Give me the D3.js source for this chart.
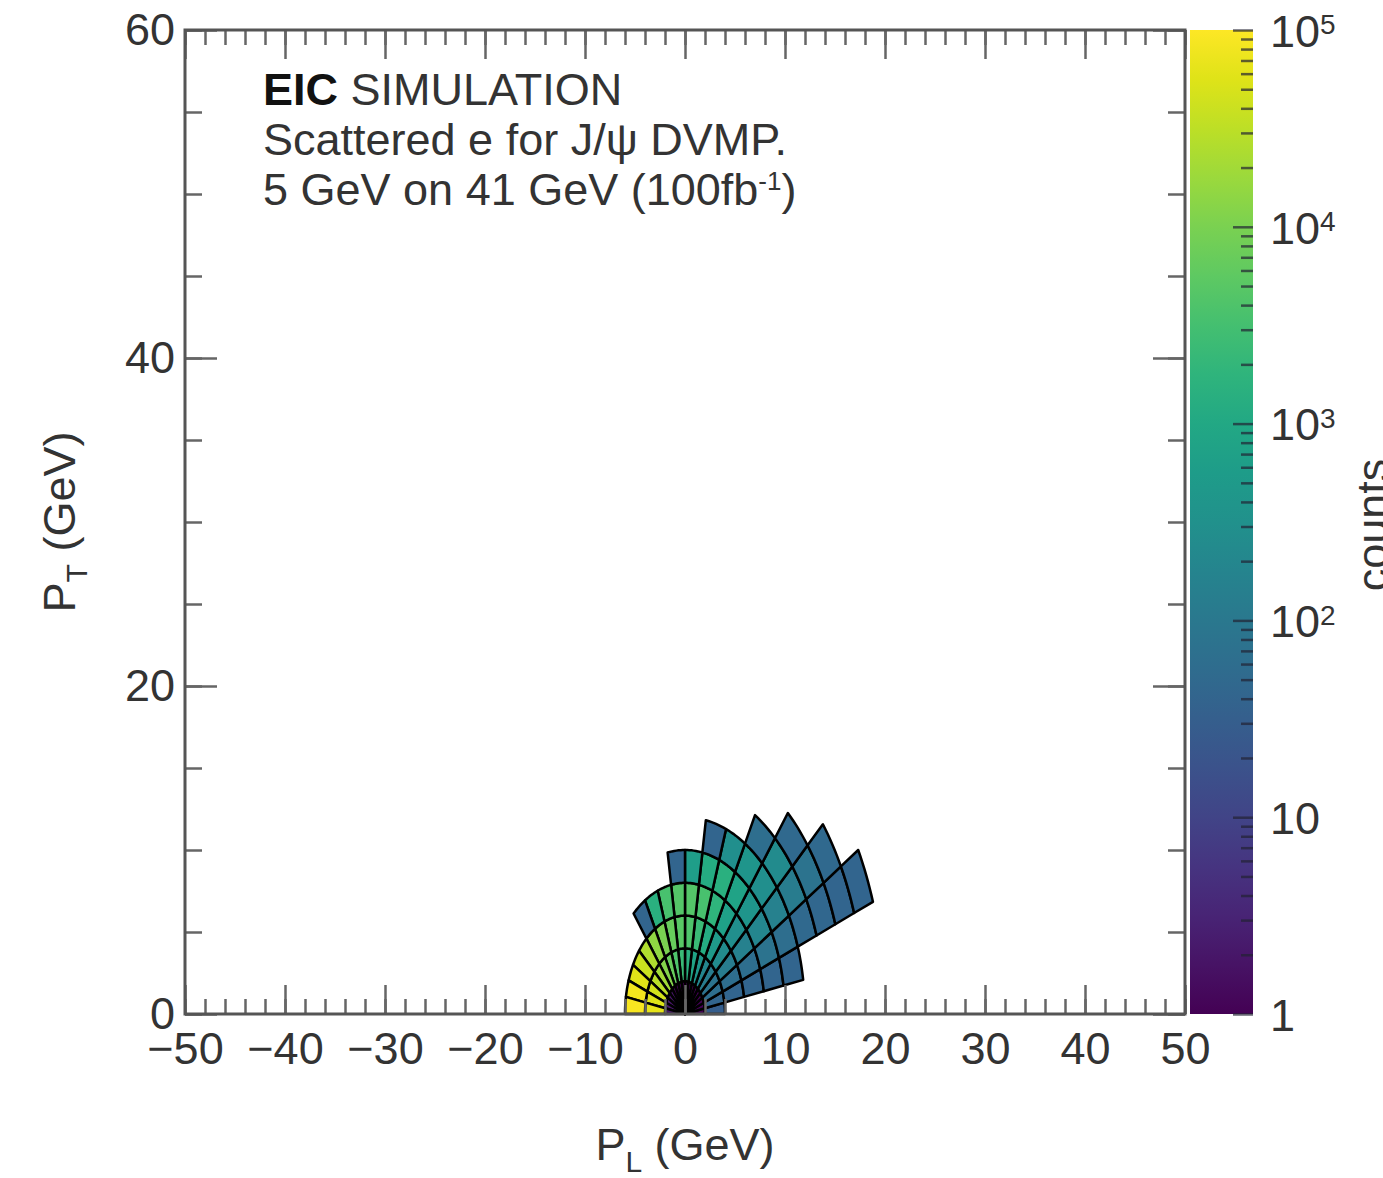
<!DOCTYPE html>
<html>
<head>
<meta charset="utf-8">
<script src="https://cdn.jsdelivr.net/npm/d3@7"></script>
<style>
  body { margin: 0; background: #fff; }
  text { font-family: "Liberation Sans", Arial, Helvetica, sans-serif; fill: #333; }
</style>
</head>
<body>
<svg id="chart" width="1383" height="1178"></svg>
<script>

// polar binning of the scattered electron: momentum rings (GeV) x polar angle slices (deg)
const momentumEdges = [0, 2, 4, 6, 8, 10, 12, 14, 16, 18, 20];
const angleEdges = [0, 10, 20, 30, 40, 50, 60, 70, 80, 90, 100, 110, 120, 130, 140, 150, 160, 170, 180];

// counts[ring][slice], 0 = empty bin
const counts = [
  [1, 1, 1, 1, 1, 1, 1, 1, 1, 1, 1, 1, 1, 2, 2, 2, 2, 2],
  [30, 40, 60, 80, 120, 200, 400, 800, 1500, 2500, 4000, 7000, 12000, 20000, 30000, 45000, 55000, 65000],
  [0, 40, 60, 120, 250, 500, 1200, 2500, 4000, 5000, 7000, 10000, 15000, 25000, 40000, 60000, 80000, 90000],
  [0, 40, 60, 150, 300, 700, 1800, 3500, 4500, 4500, 3500, 1500, 40, 0, 0, 0, 0, 0],
  [0, 40, 80, 200, 400, 800, 1500, 1200, 600, 40, 0, 0, 0, 0, 0, 0, 0, 0],
  [0, 40, 60, 150, 300, 400, 300, 40, 0, 0, 0, 0, 0, 0, 0, 0, 0, 0],
  [0, 0, 50, 120, 250, 60, 0, 0, 0, 0, 0, 0, 0, 0, 0, 0, 0, 0],
  [0, 0, 45, 80, 50, 0, 0, 0, 0, 0, 0, 0, 0, 0, 0, 0, 0, 0],
  [0, 0, 40, 50, 0, 0, 0, 0, 0, 0, 0, 0, 0, 0, 0, 0, 0, 0],
  [0, 0, 40, 0, 0, 0, 0, 0, 0, 0, 0, 0, 0, 0, 0, 0, 0, 0]
];

const xTicks = [-50, -40, -30, -20, -10, 0, 10, 20, 30, 40, 50];
const yTicks = [0, 20, 40, 60];
const zTicks = [1, 10, 100, 1000, 10000, 100000];

const infoLines = ["Scattered e for J/\u03c8 DVMP.", "5 GeV on 41 GeV (100fb"];

let svg = d3.select("#chart");

let frame = {left: 185, right: 1185, top: 30, bottom: 1014};
let x = d3.scaleLinear().domain([-50, 50]).range([frame.left, frame.right]);
let y = d3.scaleLinear().domain([0, 60]).range([frame.bottom, frame.top]);
let z = d3.scaleLog().domain([1, 1e5]).range([frame.bottom, frame.top]);
let color = d3.scaleSequentialLog(d3.interpolateViridis).domain([1, 1e5]);

// cells
let cells = [];
counts.forEach((row, i) => {
    row.forEach((v, j) => {
        if (v > 0) cells.push({r0: momentumEdges[i], r1: momentumEdges[i + 1],
                               t0: angleEdges[j], t1: angleEdges[j + 1], v: v});
    });
});

let rad = Math.PI / 180;
let line = d3.line().x(d => x(d[0])).y(d => y(d[1]));

function cellPoints(c) {
    let pts = [];
    let n = 8;
    for (let k = 0; k <= n; k++) {
        let t = (c.t0 + (c.t1 - c.t0) * k / n) * rad;
        pts.push([c.r1 * Math.cos(t), c.r1 * Math.sin(t)]);
    }
    for (let k = n; k >= 0; k--) {
        let t = (c.t0 + (c.t1 - c.t0) * k / n) * rad;
        pts.push([c.r0 * Math.cos(t), c.r0 * Math.sin(t)]);
    }
    return pts;
}

svg.append("g")
    .selectAll("path")
    .data(cells)
    .enter()
    .append("path")
    .attr("d", d => line(cellPoints(d)) + "Z")
    .attr("fill", d => color(d.v))
    .attr("stroke", "#000")
    .attr("stroke-width", 2.5)
    .attr("stroke-linejoin", "round");

// axes (ROOT style, ticks inside the frame on all four sides)
function styleAxis(g) {
    g.select(".domain").remove();
    g.selectAll(".tick line").attr("stroke", "#666").attr("stroke-width", 2.5);
    g.selectAll(".tick text").attr("fill", "#333").style("font-size", "45px")
        .style("font-family", "'Liberation Sans', Arial, sans-serif");
}

let xMinor = d3.range(-50, 51, 2);
let yMinor = d3.range(0, 61, 5);

svg.append("g").attr("transform", `translate(0,${frame.bottom})`)
    .call(d3.axisBottom(x).tickValues(xMinor).tickSize(-15).tickFormat(""))
    .call(styleAxis);
svg.append("g").attr("transform", `translate(0,${frame.bottom})`)
    .call(d3.axisBottom(x).tickValues(xTicks).tickSize(-29).tickPadding(18).tickFormat(d3.format("d")))
    .call(styleAxis);
svg.append("g").attr("transform", `translate(0,${frame.top})`)
    .call(d3.axisTop(x).tickValues(xMinor).tickSize(-15).tickFormat(""))
    .call(styleAxis);
svg.append("g").attr("transform", `translate(0,${frame.top})`)
    .call(d3.axisTop(x).tickValues(xTicks).tickSize(-29).tickFormat(""))
    .call(styleAxis);

svg.append("g").attr("transform", `translate(${frame.left},0)`)
    .call(d3.axisLeft(y).tickValues(yMinor).tickSize(-17).tickFormat(""))
    .call(styleAxis);
svg.append("g").attr("transform", `translate(${frame.left},0)`)
    .call(d3.axisLeft(y).tickValues(yTicks).tickSize(-32).tickPadding(10).tickFormat(d3.format("d")))
    .call(styleAxis);
svg.append("g").attr("transform", `translate(${frame.right},0)`)
    .call(d3.axisRight(y).tickValues(yMinor).tickSize(-17).tickFormat(""))
    .call(styleAxis);
svg.append("g").attr("transform", `translate(${frame.right},0)`)
    .call(d3.axisRight(y).tickValues(yTicks).tickSize(-32).tickFormat(""))
    .call(styleAxis);

svg.append("rect")
    .attr("x", frame.left).attr("y", frame.top)
    .attr("width", frame.right - frame.left).attr("height", frame.bottom - frame.top)
    .attr("fill", "none").attr("stroke", "#555").attr("stroke-width", 3);

// colour bar
let bar = {left: 1190, right: 1253};
let grad = svg.append("defs").append("linearGradient")
    .attr("id", "viridis").attr("x1", 0).attr("x2", 0).attr("y1", 1).attr("y2", 0);
d3.range(0, 21).forEach(i => {
    grad.append("stop").attr("offset", i / 20).attr("stop-color", d3.interpolateViridis(i / 20));
});
svg.append("rect")
    .attr("x", bar.left).attr("y", frame.top)
    .attr("width", bar.right - bar.left).attr("height", frame.bottom - frame.top)
    .attr("fill", "url(#viridis)");

let zMinor = [];
zTicks.slice(0, -1).forEach(t => { for (let k = 2; k <= 9; k++) zMinor.push(t * k); });

svg.append("g").attr("transform", `translate(${bar.right},0)`)
    .call(d3.axisRight(z).tickValues(zMinor).tickSize(-12).tickFormat(""))
    .call(styleAxis)
    .selectAll(".tick line").attr("stroke", "#223").attr("stroke-opacity", 0.7);

let zAxis = svg.append("g").attr("transform", `translate(${bar.right},0)`)
    .call(d3.axisRight(z).tickValues(zTicks).tickSize(-20).tickPadding(17).tickFormat(""))
    .call(styleAxis);
zAxis.selectAll(".tick line").attr("stroke", "#223").attr("stroke-opacity", 0.7);

zAxis.selectAll(".tick")
    .append("text")
    .attr("x", 17)
    .attr("dy", "0.36em")
    .style("font-size", "45px")
    .each(function (d) {
        let e = Math.round(Math.log10(d));
        let t = d3.select(this);
        if (e < 2) {
            t.text(d);
        } else {
            t.append("tspan").text("10");
            t.append("tspan").attr("dy", "-0.45em").style("font-size", "28px").text(e);
        }
    });

// text block
let info = svg.append("g").attr("transform", "translate(263,0)");
let head = info.append("text").attr("y", 105).style("font-size", "45px");
head.append("tspan").style("font-weight", "bold").style("fill", "#111").text("EIC");
head.append("tspan").text(" SIMULATION");
info.append("text").attr("y", 155).style("font-size", "45px").text(infoLines[0]);
let lumi = info.append("text").attr("y", 205).style("font-size", "45px");
lumi.append("tspan").text(infoLines[1]);
lumi.append("tspan").attr("dy", -15).style("font-size", "26px").text("-1");
lumi.append("tspan").attr("dy", 15).text(")");

// axis titles
let xTitle = svg.append("text")
    .attr("x", (frame.left + frame.right) / 2).attr("y", 1160)
    .attr("text-anchor", "middle").style("font-size", "45px");
xTitle.append("tspan").text("P");
xTitle.append("tspan").attr("dy", 12).style("font-size", "30px").text("L");
xTitle.append("tspan").attr("dy", -12).text(" (GeV)");

let yTitle = svg.append("text")
    .attr("transform", `translate(75,${(frame.top + frame.bottom) / 2}) rotate(-90)`)
    .attr("text-anchor", "middle").style("font-size", "45px");
yTitle.append("tspan").text("P");
yTitle.append("tspan").attr("dy", 12).style("font-size", "30px").text("T");
yTitle.append("tspan").attr("dy", -12).text(" (GeV)");

svg.append("text")
    .attr("transform", "translate(1388,525) rotate(-90)")
    .attr("text-anchor", "middle").style("font-size", "45px")
    .text("counts");

</script>
</body>
</html>
